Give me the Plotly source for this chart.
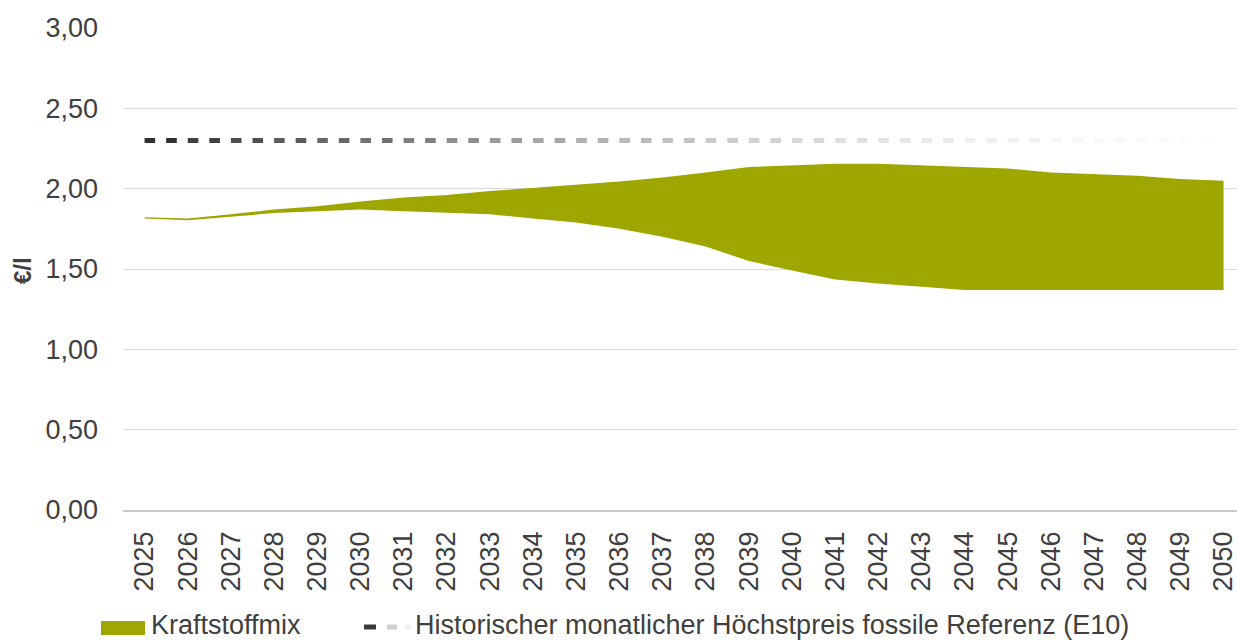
import plotly.graph_objects as go

# Years on the category axis
years = [2025, 2026, 2027, 2028, 2029, 2030, 2031, 2032, 2033, 2034, 2035, 2036, 2037,
         2038, 2039, 2040, 2041, 2042, 2043, 2044, 2045, 2046, 2047, 2048, 2049, 2050]

# Fuel-mix price range in EUR per litre (upper and lower bound)
mix_upper = [1.822, 1.815, 1.84, 1.87, 1.89, 1.92, 1.945, 1.96, 1.985, 2.005, 2.025, 2.045, 2.07,
             2.10, 2.135, 2.145, 2.155, 2.155, 2.145, 2.135, 2.125, 2.10, 2.09, 2.08, 2.06, 2.05]
mix_lower = [1.814, 1.803, 1.825, 1.848, 1.86, 1.87, 1.86, 1.85, 1.84, 1.815, 1.79, 1.75, 1.70,
             1.64, 1.55, 1.49, 1.435, 1.41, 1.39, 1.37, 1.37, 1.37, 1.37, 1.37, 1.37, 1.37]

# Historical monthly peak price of the fossil reference (E10)
ref_price = [2.30, 2.30, 2.30, 2.30, 2.30, 2.30, 2.30, 2.30, 2.30, 2.30, 2.30, 2.30, 2.30,
             2.30, 2.30, 2.30, 2.30, 2.30, 2.30, 2.30, 2.30, 2.30, 2.30, 2.30, 2.30, 2.30]

y_ticks = [0, 0.5, 1.0, 1.5, 2.0, 2.5, 3.0]

GREEN = "#9EA700"
TEXT = "#404040"
FONT = "Liberation Sans, Arial, sans-serif"

# grey level of the fading reference line at selected years
fade_years = [2025, 2027, 2029, 2031, 2033, 2035, 2037, 2039, 2041, 2043, 2045, 2047, 2050]
fade_grey = [40, 72, 98, 120, 150, 172, 190, 207, 220, 232, 241, 247, 252]


def grey_at(x):
    for i in range(len(fade_years) - 1):
        a, b = fade_years[i], fade_years[i + 1]
        if a <= x <= b:
            t = (x - a) / (b - a)
            return fade_grey[i] + t * (fade_grey[i + 1] - fade_grey[i])
    return fade_grey[-1]


fig = go.Figure()

# band: lower bound first, then the upper bound filled down to it
fig.add_trace(go.Scatter(x=years, y=mix_lower, mode="lines",
                         line=dict(width=0, color=GREEN), showlegend=False,
                         hoverinfo="skip"))
fig.add_trace(go.Scatter(x=years, y=mix_upper, mode="lines", fill="tonexty",
                         fillcolor=GREEN, line=dict(width=0, color=GREEN),
                         name="Kraftstoffmix", showlegend=False))

# dashed reference line fading from dark to white, one segment per year step
for i in range(len(years) - 1):
    g = int(round(grey_at(years[i] + 0.5)))
    fig.add_trace(go.Scatter(x=years[i:i + 2], y=ref_price[i:i + 2], mode="lines",
                             line=dict(color=f"rgb({g},{g},{g})", width=5,
                                       dash="10.6px,11px"),
                             showlegend=False, hoverinfo="skip"))

L, T, B = 123, 28, 130
W, H = 1237, 640
plot_w = W - L
plot_h = H - T - B


def px_x(p):
    return (p - L) / plot_w


def px_y(p):
    return (H - B - p) / plot_h


LEG_Y = 625

shapes = [
    # legend: fuel mix swatch
    dict(type="rect", xref="paper", yref="paper",
         x0=px_x(101), x1=px_x(145), y0=px_y(635), y1=px_y(621),
         fillcolor=GREEN, line=dict(width=0)),
    # legend: fading dashes
    dict(type="line", xref="paper", yref="paper",
         x0=px_x(364), x1=px_x(376), y0=px_y(LEG_Y + 2), y1=px_y(LEG_Y + 2),
         line=dict(color="#3a3a3a", width=5)),
    dict(type="line", xref="paper", yref="paper",
         x0=px_x(387), x1=px_x(397), y0=px_y(LEG_Y + 2), y1=px_y(LEG_Y + 2),
         line=dict(color="#cfcfcf", width=5)),
    dict(type="line", xref="paper", yref="paper",
         x0=px_x(405), x1=px_x(411), y0=px_y(LEG_Y + 2), y1=px_y(LEG_Y + 2),
         line=dict(color="#f0f0f0", width=5)),
]

annotations = [
    dict(text="Kraftstoffmix", xref="paper", yref="paper",
         x=px_x(149), y=px_y(LEG_Y), xanchor="left", yanchor="middle",
         showarrow=False, font=dict(family=FONT, size=27, color=TEXT)),
    dict(text="Historischer monatlicher Höchstpreis fossile Referenz (E10)",
         xref="paper", yref="paper", x=px_x(413), y=px_y(LEG_Y),
         xanchor="left", yanchor="middle", showarrow=False,
         font=dict(family=FONT, size=27, color=TEXT)),
    dict(text="<b>€/l</b>", xref="paper", yref="paper",
         x=px_x(22), y=px_y(271), xanchor="center", yanchor="middle",
         textangle=-90, showarrow=False,
         font=dict(family=FONT, size=24, color=TEXT)),
]

fig.update_layout(
    width=W, height=H,
    margin=dict(l=L, r=0, t=T, b=B, pad=0),
    paper_bgcolor="white", plot_bgcolor="white",
    separators=",.",
    font=dict(family=FONT, size=27, color=TEXT),
    shapes=shapes, annotations=annotations,
    showlegend=False,
)

fig.update_xaxes(
    range=[2024.5, 2024.5 + plot_w / 43.16],
    tickmode="array", tickvals=years, ticktext=[str(y) for y in years],
    tickangle=-90, ticks="", ticklabelstandoff=9, ticklabeloverflow="allow",
    showgrid=False, zeroline=False,
    showline=True, linecolor="#c9c9c9", linewidth=1.5,
    tickfont=dict(family=FONT, size=27, color=TEXT),
)
fig.update_yaxes(
    range=[0, 3], tickmode="array", tickvals=y_ticks, tickformat=".2f",
    ticks="", ticklabelstandoff=24,
    showgrid=True, gridcolor="#dadada", gridwidth=1.3,
    zeroline=False, showline=False,
    tickfont=dict(family=FONT, size=27, color=TEXT),
)

fig.write_html("out.html")
